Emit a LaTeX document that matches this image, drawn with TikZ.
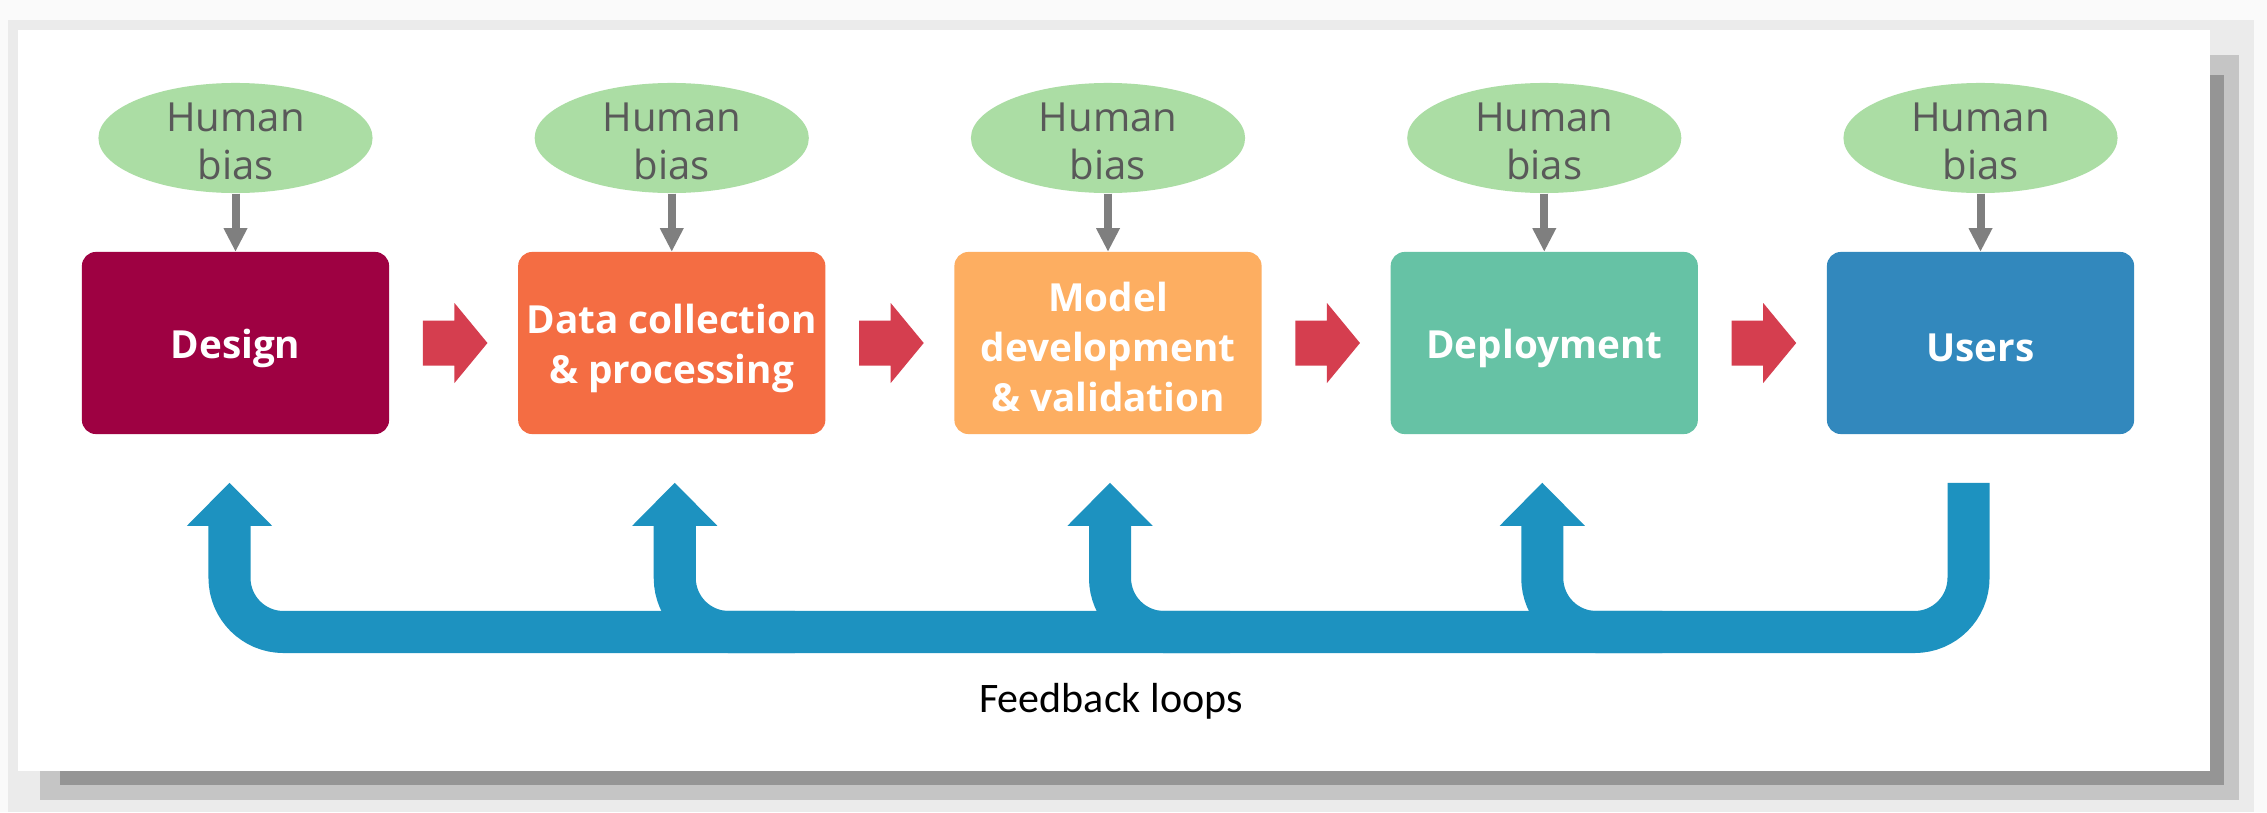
\documentclass[tikz,border=0pt]{standalone}
\usepackage{fontspec}
\setmainfont{Open Sans}
\newfontfamily\notefont{Carlito}
\usetikzlibrary{arrows.meta,shapes.geometric,calc}

\definecolor{designc}{HTML}{9E0142}
\definecolor{datac}{HTML}{F46D43}
\definecolor{modelc}{HTML}{FDAE61}
\definecolor{deployc}{HTML}{66C2A5}
\definecolor{usersc}{HTML}{3288BD}
\definecolor{biasc}{HTML}{ABDDA4}
\definecolor{biastxt}{HTML}{595959}
\definecolor{grayarr}{HTML}{7F7F7F}
\definecolor{flowred}{HTML}{D53E4F}
\definecolor{fbblue}{HTML}{1D92C0}
\definecolor{shA}{HTML}{FAFAFA}
\definecolor{shB}{HTML}{EBEBEB}
\definecolor{shC}{HTML}{C5C5C5}
\definecolor{shD}{HTML}{959595}

\begin{document}
\begin{tikzpicture}[x=0.01cm,y=-0.01cm,
  stage/.style={rectangle, rounded corners=0.14cm, minimum width=3.07cm,
    minimum height=1.82cm, inner sep=0pt},
  stagetext/.style={text=white, align=center, inner sep=0pt,
    font=\bfseries\fontsize{11.0}{14.2}\selectfont},
  bias/.style={ellipse, fill=biasc, minimum width=2.74cm, minimum height=1.10cm,
    inner sep=0pt},
  biastext/.style={text=biastxt, align=center, inner sep=0pt,
    font=\fontsize{11.4}{13.66}\selectfont},
  influence/.style={draw=grayarr, line width=0.08cm,
    -{Triangle[width=0.24cm,length=0.23cm,line width=0pt]}},
  flow/.style={fill=flowred},
  feedback/.style={draw=fbblue, line width=0.42cm, rounded corners=0.54cm,
    -{Triangle[width=0.85cm,length=0.43cm,line width=0pt]}},
]
\useasboundingbox (0,0) rectangle (2267,812);

% panel with a soft drop shadow
\fill[shA] (0,0) rectangle (2267,812);
\fill[shB] (8,20) rectangle (2254,812);
\fill[shC] (40,55) rectangle (2239,800);
\fill[shD] (60,75) rectangle (2224,785);
\fill[white] (18,30) rectangle (2210,771);

% pipeline stages
\node[stage, fill=designc] (b1) at (235.5,343) {};
\node[stage, fill=datac]   (b2) at (671.75,343) {};
\node[stage, fill=modelc]  (b3) at (1108,343) {};
\node[stage, fill=deployc] (b4) at (1544.25,343) {};
\node[stage, fill=usersc]  (b5) at (1980.5,343) {};
\node[stagetext] (l1) at ($(b1)+(0,5)$) {Design};
\node[stagetext] (l2) at ($(b2)+(0,5)$) {Data collection\\\& processing};
\node[stagetext] (l3) at ($(b3)+(0,4)$) {Model\\development\\\& validation};
\node[stagetext] (l4) at ($(b4)+(0,5)$) {Deployment};
\node[stagetext] (l5) at ($(b5)+(0,5)$) {Users};

% human bias entering each stage
\foreach \i in {1,...,5}{
  \node[bias] (h\i) at ($(b\i)+(0,-205)$) {};
  \node[biastext] (ht\i) at ($(h\i)+(0,3)$) {Human\\bias};
  \draw[influence] (h\i.south) -- (b\i.north);
}

% forward flow between stages: block arrows from one stage to the next
\foreach \i/\j in {1/2,2/3,3/4,4/5}{
  \coordinate (fs) at ($(b\i.east)+(33,0)$);
  \coordinate (fe) at ($(b\j.west)+(-30,0)$);
  \fill[flow] ($(fs)+(0,-22.5)$) -- ($(fe)+(-33,-22.5)$) -- ($(fe)+(-33,-40)$)
    -- (fe) -- ($(fe)+(-33,40)$) -- ($(fe)+(-33,22.5)$) -- ($(fs)+(0,22.5)$) -- cycle;
}

% feedback loops
\coordinate (fbbar) at (0,632);
\coordinate (t1) at ($(b1.south)+(-6,48)$);
\coordinate (t2) at ($(b2.south)+(3,48)$);
\coordinate (t3) at ($(b3.south)+(2,48)$);
\coordinate (t4) at ($(b4.south)+(-2,48)$);
\coordinate (s5) at ($(b5.south)+(-12,48)$);
\draw[feedback] (s5) -- (s5 |- fbbar) -- (t1 |- fbbar) -- (t1);
\foreach \t in {t2,t3,t4}{
  \draw[feedback] ($(\t |- fbbar)+(120,0)$) -- (\t |- fbbar) -- (\t);
}

\node[font=\notefont\fontsize{11.95}{14}\selectfont, anchor=base, inner sep=0pt]
  (fbl) at (1111,712) {Feedback loops};
\end{tikzpicture}
\end{document}
